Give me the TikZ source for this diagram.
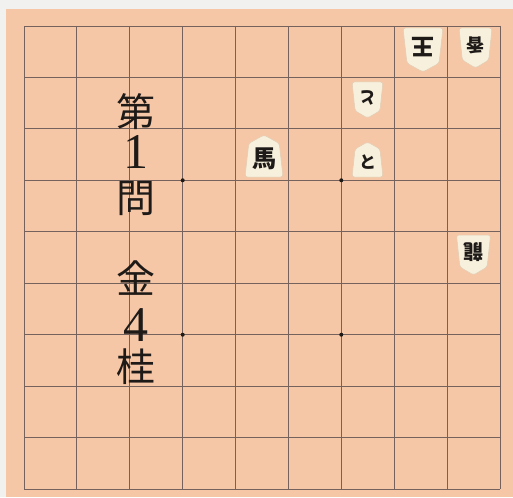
\documentclass[tikz,border=0pt]{standalone}
\usepackage{fontspec}
\setmainfont{Liberation Serif}
\newfontfamily\jp{Noto Sans CJK JP}
\definecolor{wood}{RGB}{246,199,166}
\definecolor{gridc}{RGB}{118,98,92}
\definecolor{piecec}{RGB}{247,240,220}
\definecolor{piecee}{RGB}{225,205,180}
\definecolor{marginc}{RGB}{241,241,239}
\definecolor{inkc}{RGB}{30,26,24}
\tikzset{
  gridline/.style={draw=gridc, line width=0.9pt},
  star/.style={circle, fill=inkc, inner sep=0pt, minimum size=4pt},
  title/.style={font=\jp\fontsize{39}{39}\selectfont, text=inkc, inner sep=0pt},
  digit/.style={font=\fontsize{50}{50}\selectfont, text=inkc, inner sep=0pt},
  komabody/.style={fill=piecec, draw=piecee, line width=0.5pt, rounded corners=2.5pt},
}
\newcommand\koma[8]{%
  \begin{scope}[shift={(#2,#3)},rotate=#6]
    \path[komabody] (-#4/2,#5/2) -- (#4/2,#5/2) -- (0.40*#4,-0.30*#5) -- (0,-#5/2) -- (-0.40*#4,-0.30*#5) -- cycle;
  \end{scope}
  \node[font=\jp\bfseries\fontsize{#7}{#7}\selectfont, text=inkc, inner sep=0pt, rotate=#6] (#1) at (#2,{#3+(#6==0?1:-1)*0.06*#5}) {#8};
}
\begin{document}
\begin{tikzpicture}[x=1pt,y=-1pt]
\useasboundingbox (0,0) rectangle (513,497);
\fill[marginc] (0,0) rectangle (513,497);
\fill[wood] (6,9) rectangle (513,497);
\foreach \i in {0,...,9} {
  \draw[gridline] ({24+\i*52.889},26) -- ({24+\i*52.889},489);
  \draw[gridline] (24,{26+\i*51.444}) -- (500,{26+\i*51.444});
}
\node[star] (s1) at (182.7,180.3) {};
\node[star] (s2) at (341.3,180.3) {};
\node[star] (s3) at (182.7,334.7) {};
\node[star] (s4) at (341.3,334.7) {};
% pieces
\koma{ou}{423}{50}{40}{44}{180}{23}{王}
\koma{kyo}{475.5}{48}{33}{40}{180}{18}{香}
\koma{tog}{367.5}{100}{31}{36}{180}{17}{と}
\koma{tos}{367.5}{159.5}{31}{35}{0}{17}{と}
\koma{uma}{264}{156}{38}{42}{0}{24}{馬}
\koma{ryu}{473.5}{255}{34}{40}{180}{20}{龍}
% title
\node[title] (t1) at (136,112) {第};
\node[digit] (t2) at (136,152) {1};
\node[title] (t3) at (136,199) {問};
\node[title] (t4) at (136,278) {金};
\node[digit] (t5) at (136,325) {4};
\node[title] (t6) at (136,367) {桂};
\end{tikzpicture}
\end{document}
